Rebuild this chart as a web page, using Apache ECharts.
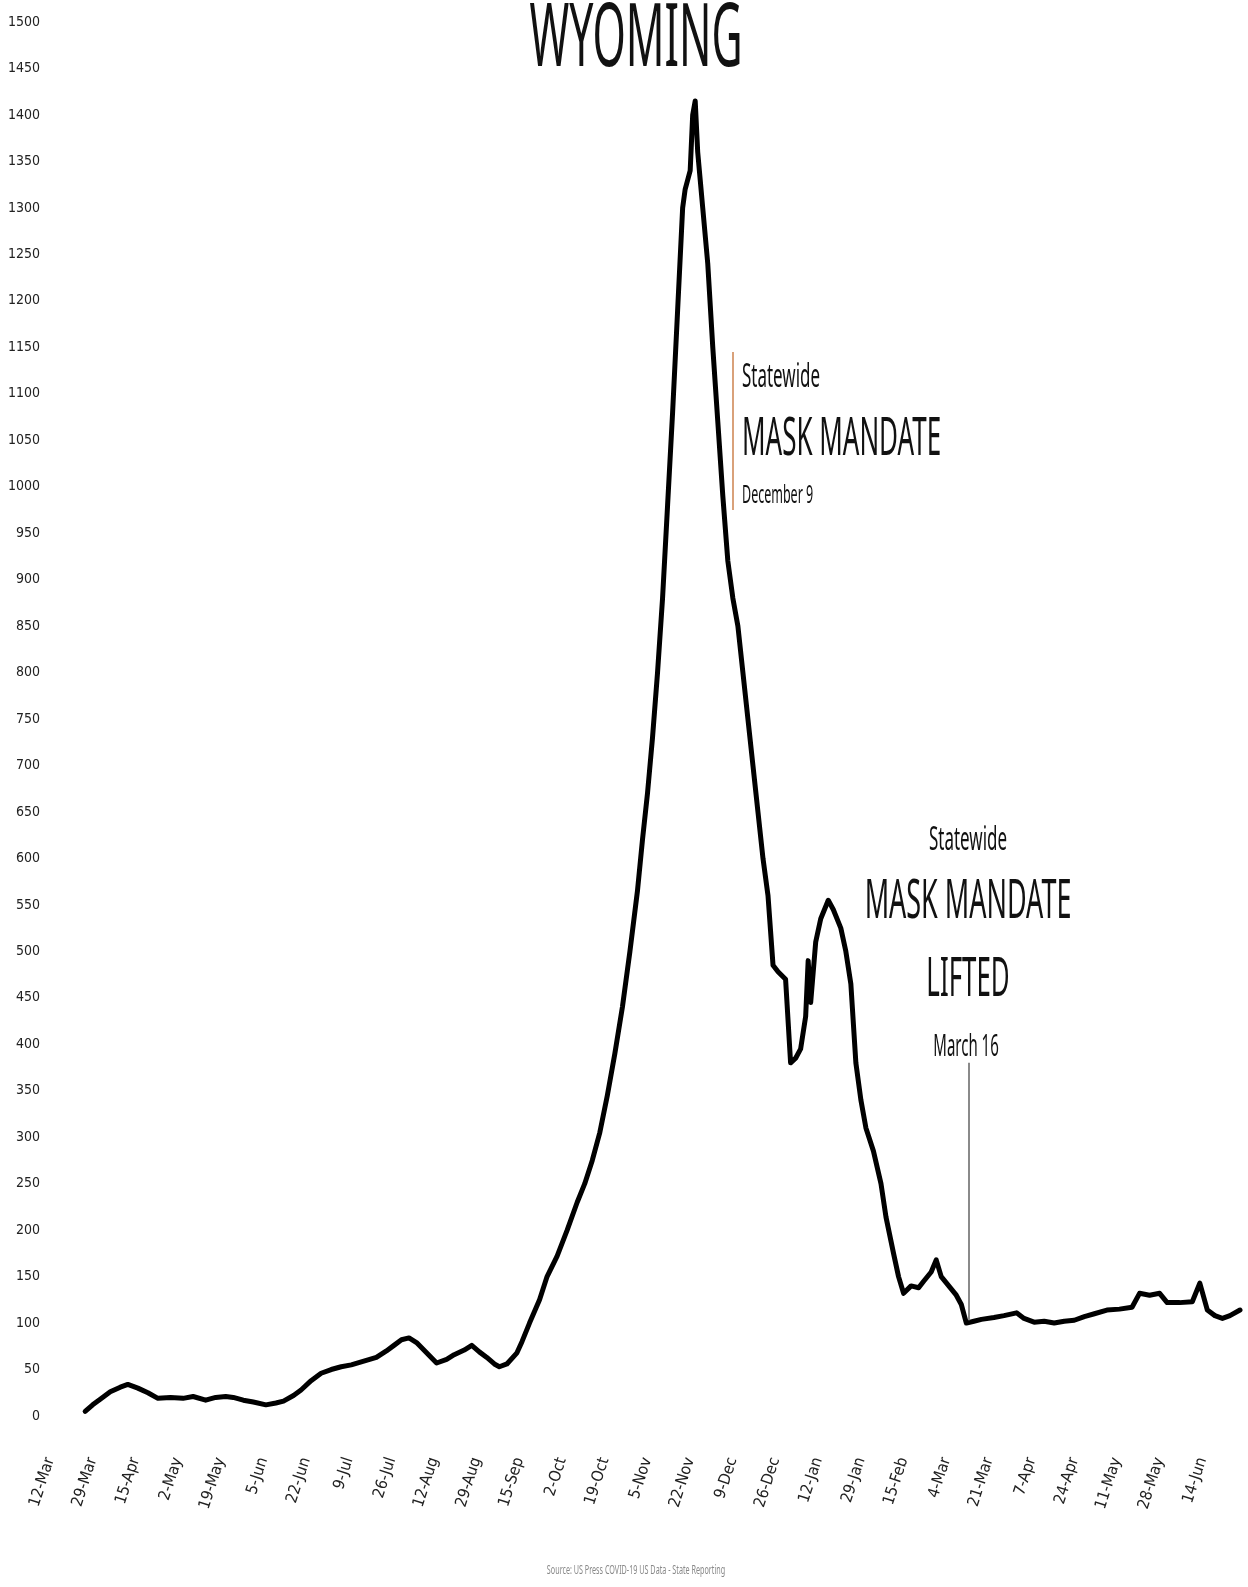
<!DOCTYPE html>
<html>
<head>
<meta charset="utf-8">
<script src="https://cdn.jsdelivr.net/npm/echarts@6/dist/echarts.min.js"></script>
<style>
html,body{margin:0;padding:0;background:#ffffff;}
#chart{width:1248px;height:1587px;}
</style>
</head>
<body>
<div id="chart"></div>
<script>
// ---- Data ----
const startDate = '2020-03-12';
const xTickLabels = ['12-Mar','29-Mar','15-Apr','2-May','19-May','5-Jun','22-Jun','9-Jul','26-Jul','12-Aug','29-Aug','15-Sep','2-Oct','19-Oct','5-Nov','22-Nov','9-Dec','26-Dec','12-Jan','29-Jan','15-Feb','4-Mar','21-Mar','7-Apr','24-Apr','11-May','28-May','14-Jun'];
const yTicks = {min: 0, max: 1500, step: 50};

const dates = [
'2020-03-26','2020-03-29','2020-04-01','2020-04-05','2020-04-09','2020-04-12','2020-04-16','2020-04-20','2020-04-24','2020-04-29',
'2020-05-04','2020-05-08','2020-05-13','2020-05-17','2020-05-21','2020-05-24','2020-05-28','2020-06-01','2020-06-06','2020-06-10',
'2020-06-13','2020-06-17','2020-06-20','2020-06-24','2020-06-28','2020-07-02','2020-07-06','2020-07-10','2020-07-15','2020-07-20',
'2020-07-24','2020-07-27','2020-07-30','2020-08-02','2020-08-05','2020-08-09','2020-08-13','2020-08-17','2020-08-20','2020-08-24',
'2020-08-27','2020-08-30','2020-09-02','2020-09-05','2020-09-07','2020-09-10','2020-09-14','2020-09-16','2020-09-19','2020-09-23',
'2020-09-26','2020-09-30','2020-10-04','2020-10-08','2020-10-11','2020-10-14','2020-10-17','2020-10-20','2020-10-23','2020-10-26',
'2020-10-29','2020-11-01','2020-11-03','2020-11-05','2020-11-07','2020-11-09','2020-11-11','2020-11-13','2020-11-15','2020-11-17',
'2020-11-19','2020-11-20','2020-11-22','2020-11-23','2020-11-24','2020-11-25','2020-11-26','2020-11-27','2020-11-29','2020-12-01',
'2020-12-03','2020-12-05','2020-12-07','2020-12-09','2020-12-11','2020-12-13','2020-12-15','2020-12-17','2020-12-19','2020-12-21',
'2020-12-23','2020-12-25','2020-12-27','2020-12-30','2021-01-01','2021-01-03','2021-01-05','2021-01-07','2021-01-08','2021-01-09',
'2021-01-11','2021-01-13','2021-01-16','2021-01-18','2021-01-21','2021-01-23','2021-01-25','2021-01-27','2021-01-29','2021-01-31',
'2021-02-03','2021-02-06','2021-02-08','2021-02-11','2021-02-13','2021-02-15','2021-02-18','2021-02-21','2021-02-23','2021-02-26',
'2021-02-28','2021-03-02','2021-03-05','2021-03-08','2021-03-10','2021-03-12','2021-03-15','2021-03-18','2021-03-23','2021-03-27',
'2021-04-01','2021-04-04','2021-04-08','2021-04-12','2021-04-16','2021-04-20','2021-04-24','2021-04-28','2021-05-02','2021-05-07',
'2021-05-12','2021-05-17','2021-05-20','2021-05-24','2021-05-28','2021-05-31','2021-06-05','2021-06-10','2021-06-13','2021-06-16',
'2021-06-19','2021-06-22','2021-06-25','2021-06-29'
];
const cases = [
5,12,18,26,31,34,30,25,19,20,
19,21,17,20,21,20,17,15,12,14,
16,22,28,38,46,50,53,55,59,63,
70,76,82,84,79,68,57,61,66,71,
76,69,63,56,53,56,68,80,100,125,
150,172,200,230,250,275,305,345,390,440,
500,565,620,670,730,800,880,980,1080,1190,
1300,1320,1340,1400,1415,1360,1330,1300,1240,1150,
1070,990,920,880,850,800,750,700,650,600,
560,485,478,470,380,385,395,430,490,445,
510,535,555,545,525,500,465,380,340,310,
285,250,214,175,150,132,140,138,145,155,
168,150,140,130,120,100,102,104,106,108,
111,105,101,102,100,102,103,107,110,114,
115,117,132,130,132,122,122,123,143,114,
108,105,108,114
];

// annotation events: [date, y-from, y-to]
const mandateEvent = {date: '2020-12-09', from: 1145, to: 975};
const liftedEvent = {date: '2021-03-13', from: 380, to: 103};

// ---- Build ----
function dayIndex(s){
  const p = s.split('-').map(Number);
  const q = startDate.split('-').map(Number);
  return Math.round((Date.UTC(p[0],p[1]-1,p[2]) - Date.UTC(q[0],q[1]-1,q[2])) / 86400000);
}
const seriesData = dates.map((d,i) => [dayIndex(d), cases[i]]);
const TICK = 17;
const mDay = dayIndex(mandateEvent.date);
const lDay = dayIndex(liftedEvent.date);

const chart = echarts.init(document.getElementById('chart'), null, {renderer:'canvas'});
const FONT = "'Noto Sans', 'DejaVu Sans', sans-serif";
const NARROW = "'Liberation Sans Narrow', 'DejaVu Sans Condensed', 'Noto Sans', sans-serif";

chart.setOption({
  backgroundColor: '#ffffff',
  animation: false,
  grid: {left: 50, right: 3, top: 22, bottom: 171, containLabel: false},
  xAxis: {
    type: 'value',
    min: 0,
    max: 476,
    interval: TICK,
    axisLine: {show: false},
    axisTick: {show: false},
    splitLine: {show: false},
    axisLabel: {
      rotate: 72,
      margin: 42,
      fontSize: 16,
      color: '#222',
      fontFamily: NARROW,
      showMaxLabel: false,
      formatter: function(v){
        if (v % TICK !== 0) return '';
        const k = v / TICK;
        return k < xTickLabels.length ? xTickLabels[k] : '';
      }
    }
  },
  yAxis: {
    type: 'value',
    min: yTicks.min,
    max: yTicks.max,
    interval: yTicks.step,
    axisLine: {show: false},
    axisTick: {show: false},
    splitLine: {show: false},
    axisLabel: {fontSize: 14, color: '#222', margin: 10, fontFamily: NARROW,
      formatter: function(v){ return String(v); }}
  },
  series: [{
    type: 'line',
    data: seriesData,
    symbol: 'none',
    smooth: false,
    lineStyle: {color: '#000000', width: 5, join: 'round', cap: 'round'},
    markLine: {
      silent: true,
      symbol: ['none','none'],
      label: {show: false},
      data: [
        [{coord: [mDay, mandateEvent.from], lineStyle: {color: '#d9a17a', width: 2, type: 'solid'}},
         {coord: [mDay, mandateEvent.to]}],
        [{coord: [lDay, liftedEvent.from], lineStyle: {color: '#8a8a8a', width: 2, type: 'solid'}},
         {coord: [lDay, liftedEvent.to]}]
      ]
    }
  }],
  graphic: [
    {type:'text', x: 636, y: 41, scaleX: 0.485, style:{text:'WYOMING', font: "400 88px " + FONT, fill:'#111', textAlign:'center', textVerticalAlign:'middle'}},
    {type:'text', x: 742, y: 378, scaleX: 0.53, style:{text:'Statewide', font: "400 32px " + FONT, fill:'#111', textAlign:'left', textVerticalAlign:'middle'}},
    {type:'text', x: 742, y: 440, scaleX: 0.49, style:{text:'MASK MANDATE', font: "400 53px " + FONT, fill:'#111', textAlign:'left', textVerticalAlign:'middle'}},
    {type:'text', x: 742, y: 496, scaleX: 0.5, style:{text:'December 9', font: "400 25px " + FONT, fill:'#111', textAlign:'left', textVerticalAlign:'middle'}},
    {type:'text', x: 968, y: 841, scaleX: 0.53, style:{text:'Statewide', font: "400 32px " + FONT, fill:'#111', textAlign:'center', textVerticalAlign:'middle'}},
    {type:'text', x: 968, y: 902, scaleX: 0.49, style:{text:'MASK MANDATE', font: "400 55px " + FONT, fill:'#111', textAlign:'center', textVerticalAlign:'middle'}},
    {type:'text', x: 968, y: 980, scaleX: 0.47, style:{text:'LIFTED', font: "400 55px " + FONT, fill:'#111', textAlign:'center', textVerticalAlign:'middle'}},
    {type:'text', x: 966, y: 1047, scaleX: 0.5, style:{text:'March 16', font: "400 30px " + FONT, fill:'#111', textAlign:'center', textVerticalAlign:'middle'}},
    {type:'text', x: 636, y: 1571, scaleX: 0.6, style:{text:'Source: US Press COVID-19 US Data - State Reporting', font: "400 12px " + FONT, fill:'#888', textAlign:'center', textVerticalAlign:'middle'}}
  ]
});
</script>
</body>
</html>
